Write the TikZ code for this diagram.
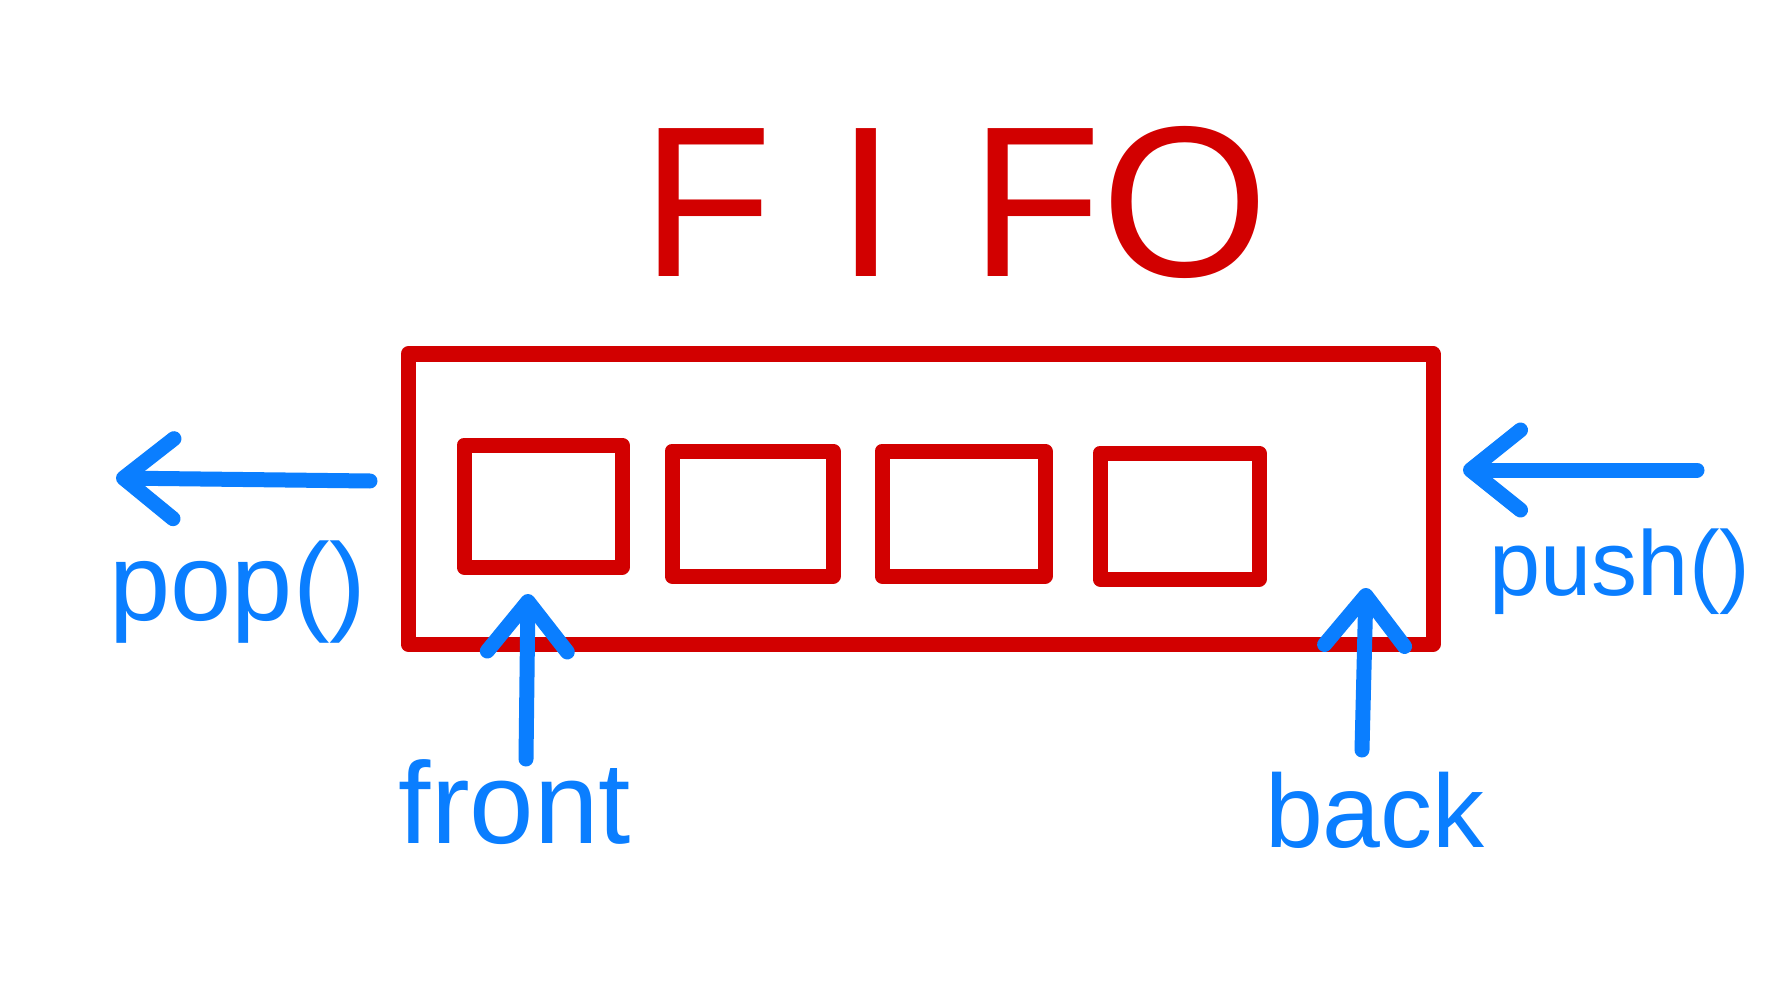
\documentclass[tikz,border=0pt]{standalone}
\usepackage{fontspec}
\setmainfont{Liberation Sans}
\usetikzlibrary{arrows.meta}
\definecolor{fred}{HTML}{D20000}
\definecolor{fblue}{HTML}{0A7EFF}
\begin{document}
\begin{tikzpicture}[x=1pt,y=-1pt,
  redline/.style={draw=fred,line width=15pt,line join=round,line cap=round},
  boxnode/.style={redline,rectangle,inner sep=0pt,outer sep=0pt},
  bluearrow/.style={draw=fblue,line width=15pt,line cap=round,line join=round,
    -{Straight Barb[round,length=50pt,width=80pt]}},
  bluetext/.style={text=fblue,inner sep=0pt},
]
\fill[white] (0,0) rectangle (1786,1000);
\useasboundingbox (0,0) rectangle (1786,1000);

% title
\node[text=fred,inner sep=0pt,font=\fontsize{215}{215}\selectfont] (fifo) at (955,202)
  {F\kern64pt I\kern74pt F\kern0pt O};

% queue container
\node[boxnode,minimum width=1025pt,minimum height=290pt] (queue) at (920.5,499) {};

% slots
\node[boxnode,minimum width=158pt,minimum height=122pt] (slot1) at (543,506) {};
\node[boxnode,minimum width=161pt,minimum height=125pt] (slot2) at (752.5,513.5) {};
\node[boxnode,minimum width=163pt,minimum height=125pt] (slot3) at (963.5,513.5) {};
\node[boxnode,minimum width=159pt,minimum height=126pt] (slot4) at (1179.5,516) {};

% labels
\node[bluetext,font=\fontsize{110}{110}\selectfont] (poplbl) at (238,592) {pop()};
\node[bluetext,font=\fontsize{92}{92}\selectfont] (pushlbl) at (1620,572) {push()};
\node[bluetext,font=\fontsize{116}{116}\selectfont] (frontlbl) at (515,802) {front};
\node[bluetext,font=\fontsize{104}{104}\selectfont] (backlbl) at (1375,810) {back};

% connector end points
\coordinate (popfrom) at (370,481);
\coordinate (popto) at (116,478);
\coordinate (pushfrom) at (1697,470);
\coordinate (pushto) at (1463,470);
\coordinate (frontfrom) at (526,759);
\coordinate (frontto) at (528,594);
\coordinate (backfrom) at (1362,750);
\coordinate (backto) at (1366,588);

\draw[bluearrow] (popfrom) -- (popto);
\draw[bluearrow] (pushfrom) -- (pushto);
\draw[bluearrow] (frontfrom) -- (frontto);
\draw[bluearrow] (backfrom) -- (backto);
\end{tikzpicture}
\end{document}
